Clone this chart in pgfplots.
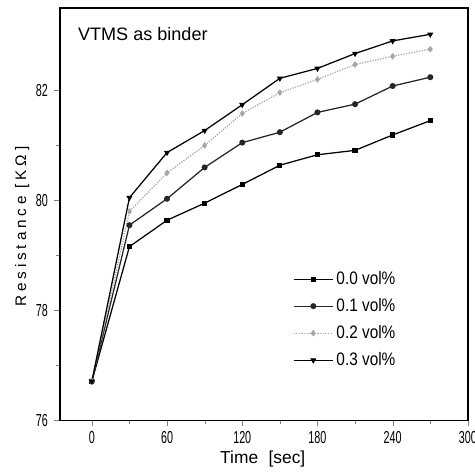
\documentclass[border=0pt]{standalone}
\usepackage{fontspec}
\setmainfont{Liberation Sans}
\newfontfamily\tickfont[FakeStretch=0.62]{Liberation Sans}
\newfontfamily\legfont[FakeStretch=0.85]{Liberation Sans}
\newfontfamily\spacedfont[LetterSpace=25]{Liberation Sans}
\usepackage{pgfplots}
\pgfplotsset{compat=1.18}

\begin{document}
\begin{tikzpicture}
\useasboundingbox (-1.52,-1.36) rectangle (10.49,10.63);
\begin{axis}[
    scale only axis,
    width=10.31cm,
    height=10.43cm,
    xmin=-25.3, xmax=300,
    ymin=76, ymax=83.5,
    xtick={0,60,120,180,240,300},
    ytick={76,78,80,82},
    minor x tick num=1,
    minor y tick num=1,
    tick pos=left,
    tick align=outside,
    major tick length=0.15cm,
    minor tick length=0.1cm,
    axis line style={line width=0.9pt},
    /pgf/number format/assume math mode=true,
    ticklabel style={font={\fontsize{12.5}{14}\tickfont}},
    yticklabel style={xshift=-1pt},
    xlabel={Time\hspace{0.6em}[sec]},
    ylabel={Resistance [KΩ]},
    xlabel style={font={\fontsize{12.5}{14}\selectfont}, at={(axis description cs:0.497,-0.094)}, anchor=center},
    ylabel style={font={\fontsize{11}{13}\spacedfont}, at={(axis description cs:-0.093,0.47)}, anchor=center},
    every axis plot/.append style={line width=0.9pt, mark size=1.7pt},
    legend style={draw=none, fill=none, at={(axis description cs:0.56,0.375)}, anchor=north west,
        font={\fontsize{13}{15}\legfont}, row sep=4.5pt},
    legend cell align=left,
    legend image code/.code={\draw[mark repeat=2,mark phase=2,#1] plot coordinates {(0cm,0cm) (0.5cm,0cm) (1.0cm,0cm)};},
]
\addplot[black, mark=square*, mark size=1.4pt] coordinates {
    (0,76.71) (30,79.16) (60,79.64) (90,79.95) (120,80.29) (150,80.64)
    (180,80.83) (210,80.91) (240,81.19) (270,81.45)
};
\addlegendentry{0.0 vol\%}
\addplot[black!85, mark=*] coordinates {
    (0,76.71) (30,79.55) (60,80.03) (90,80.60) (120,81.05) (150,81.24)
    (180,81.60) (210,81.75) (240,82.08) (270,82.24)
};
\addlegendentry{0.1 vol\%}
\addplot[gray!70, densely dotted, mark=diamond*, mark options={solid}] coordinates {
    (0,76.71) (30,79.80) (60,80.50) (90,81.00) (120,81.58) (150,81.96)
    (180,82.20) (210,82.47) (240,82.62) (270,82.75)
};
\addlegendentry{0.2 vol\%}
\addplot[black, mark=triangle*, mark options={rotate=180}] coordinates {
    (0,76.71) (30,80.05) (60,80.87) (90,81.27) (120,81.74) (150,82.22)
    (180,82.40) (210,82.67) (240,82.90) (270,83.02)
};
\addlegendentry{0.3 vol\%}
\node[anchor=west, font={\fontsize{13}{15}\selectfont}] at (axis description cs:0.032,0.937) {VTMS as binder};
\end{axis}
\end{tikzpicture}
\end{document}
